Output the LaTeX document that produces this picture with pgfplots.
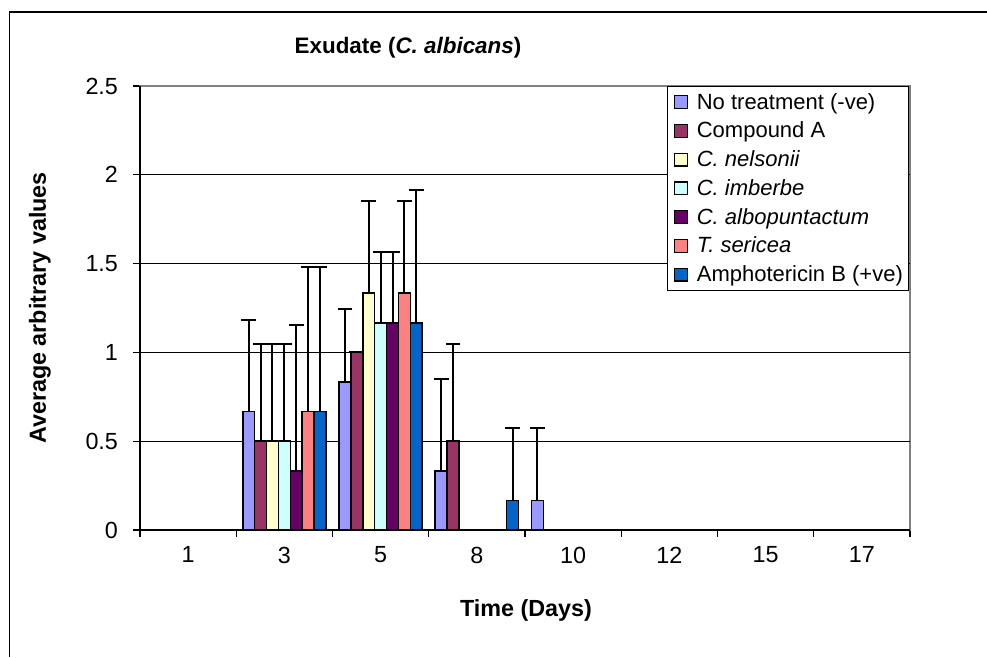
\documentclass[border=0pt]{standalone}
\usepackage{pgfplots}
\pgfplotsset{compat=1.18}
\usepackage{pgfplotstable}
\usepackage{fontspec}
\setmainfont{Liberation Sans}
\definecolor{c1}{HTML}{9999FF}
\definecolor{c2}{HTML}{993366}
\definecolor{c3}{HTML}{FFFFCC}
\definecolor{c4}{HTML}{CCFFFF}
\definecolor{c5}{HTML}{660066}
\definecolor{c6}{HTML}{FF8080}
\definecolor{c7}{HTML}{0066CC}
\pgfplotstableread{
x y e
1 0.667 0.513
2 0.833 0.410
3 0.333 0.515
4 0.167 0.410
}\noTreat
\pgfplotstableread{
x y e
1 0.500 0.550
2 1.000 0.000
3 0.500 0.550
}\compA
\pgfplotstableread{
x y e
1 0.500 0.550
2 1.333 0.517
}\nelsonii
\pgfplotstableread{
x y e
1 0.500 0.550
2 1.167 0.400
}\imberbe
\pgfplotstableread{
x y e
1 0.333 0.820
2 1.167 0.400
}\albop
\pgfplotstableread{
x y e
1 0.667 0.813
2 1.333 0.517
}\sericea
\pgfplotstableread{
x y e
1 0.667 0.813
2 1.167 0.750
3 0.167 0.410
}\ampho
\begin{document}
\begin{tikzpicture}[font=\fontsize{17.5}{21}\selectfont]
\useasboundingbox (0,0) rectangle (740.25pt,492.75pt);
\draw[line width=1.1pt] (7.125pt,0) -- (7.125pt,483.75pt) -- (740.25pt,483.75pt);
\node[font=\fontsize{16.8}{20}\selectfont\bfseries] at (306pt,456.75pt) {Exudate (\textit{C. albicans})};
\node[font=\fontsize{17.5}{21}\selectfont\bfseries, rotate=90] at (30pt,261.75pt) {Average arbitrary values};
\node[font=\fontsize{17.5}{21}\selectfont\bfseries] at (394.5pt,35.25pt) {Time (Days)};
\begin{axis}[
  at={(105pt,95.25pt)}, anchor=south west,
  scale only axis, width=577.5pt, height=333pt,
  ybar, bar width=8.925pt,
  xmin=-0.5, xmax=7.5, ymin=0, ymax=2.5,
  xtick={-0.5,0.5,...,7.5}, xticklabels={},
  extra x ticks={0,1,2,3,4,5,6,7},
  extra x tick labels={1,3,5,8,10,12,15,17},
  extra x tick style={major tick length=0pt},
  ytick={0,0.5,1,1.5,2,2.5},
  yticklabels={0,0.5,1,1.5,2,2.5},
  tick pos=left,
  tick align=outside, major tick length=5pt,
  tick style={black, line width=0.9pt},
  xticklabel style={yshift=-9pt},
  yticklabel style={xshift=-8pt},
  /pgf/number format/assume math mode=true,
  axis line style={gray, line width=0.9pt},
  clip=false,
  legend style={at={(0.6844,1)}, anchor=north west, draw=black, line width=0.8pt,
    fill=white, row sep=4.1pt, inner xsep=2pt, inner ysep=3pt, cells={anchor=west},
    font=\fontsize{16.5}{19.8}\selectfont},
  legend image code/.code={\path[draw=none, fill=none] (0pt,0pt) -- (18pt,0pt);\draw[#1, draw=black, line width=0.9pt] (3.5pt,-4.75pt) rectangle (13pt,4.75pt);},
  error bars/y dir=plus, error bars/y explicit,
  error bars/error bar style={black, line width=1.5pt},
  error bars/error mark options={black, line width=1.5pt, mark size=5.5pt, rotate=90},
]
\draw[black, line width=0.6pt] (rel axis cs:0,0.2) -- (rel axis cs:1,0.2);
\draw[black, line width=0.6pt] (rel axis cs:0,0.4) -- (rel axis cs:1,0.4);
\draw[black, line width=0.6pt] (rel axis cs:0,0.6) -- (rel axis cs:1,0.6);
\draw[black, line width=0.6pt] (rel axis cs:0,0.8) -- (rel axis cs:1,0.8);
\draw[black, line width=0.9pt] (rel axis cs:0,1) -- (rel axis cs:0,0) -- (rel axis cs:1,0);
\addplot[fill=c1, draw=black, line width=1.2pt, bar shift=-26.775pt] table[x=x, y=y, y error=e] {\noTreat};
\addplot[fill=c2, draw=black, line width=1.2pt, bar shift=-17.85pt] table[x=x, y=y, y error=e] {\compA};
\addplot[fill=c3, draw=black, line width=1.2pt, bar shift=-8.925pt] table[x=x, y=y, y error=e] {\nelsonii};
\addplot[fill=c4, draw=black, line width=1.2pt, bar shift=0pt] table[x=x, y=y, y error=e] {\imberbe};
\addplot[fill=c5, draw=black, line width=1.2pt, bar shift=8.925pt] table[x=x, y=y, y error=e] {\albop};
\addplot[fill=c6, draw=black, line width=1.2pt, bar shift=17.85pt] table[x=x, y=y, y error=e] {\sericea};
\addplot[fill=c7, draw=black, line width=1.2pt, bar shift=26.775pt] table[x=x, y=y, y error=e] {\ampho};
\legend{No treatment (-ve), Compound A, \textit{C. nelsonii}, \textit{C. imberbe}, \textit{C. albopuntactum}, \textit{T. sericea}, Amphotericin B (+ve)}
\end{axis}
\end{tikzpicture}
\end{document}
